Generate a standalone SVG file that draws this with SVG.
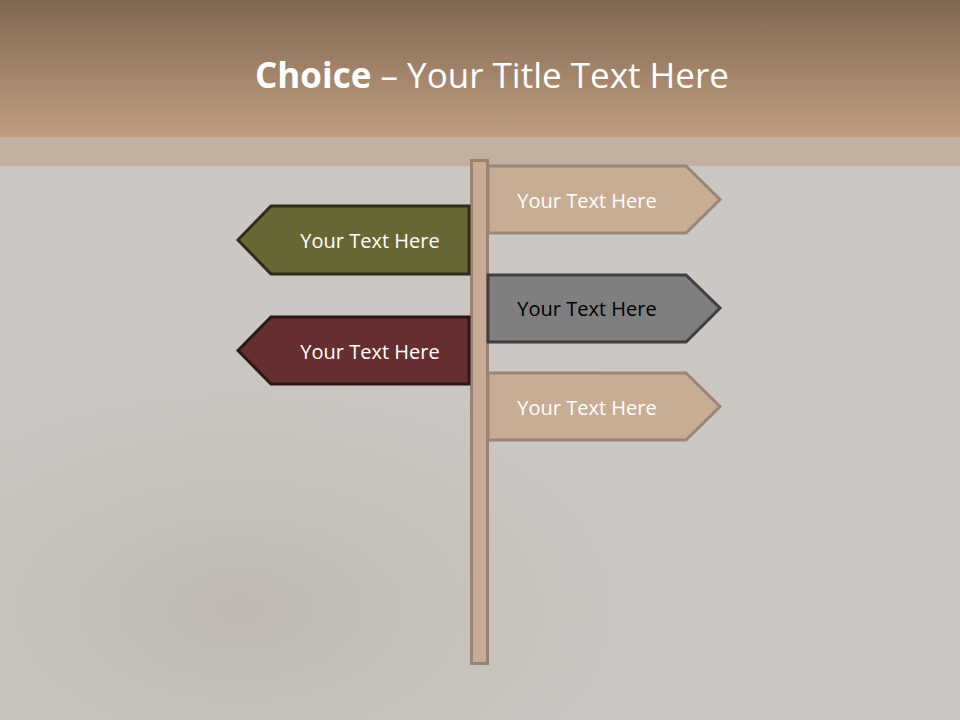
<svg xmlns="http://www.w3.org/2000/svg" width="960" height="720" viewBox="0 0 960 720">
<defs>
<linearGradient id="hdr" x1="0" y1="0" x2="0" y2="1">
<stop offset="0" stop-color="#7e6853"/>
<stop offset="1" stop-color="#c09e7f"/>
</linearGradient>
<radialGradient id="bgshade" cx="0.25" cy="0.8" r="0.6">
<stop offset="0" stop-color="#aaa197" stop-opacity="0.4"/>
<stop offset="1" stop-color="#cbc7c2" stop-opacity="0"/>
</radialGradient>
<style>
.lbl{font-family:"Open Sans","Liberation Sans",sans-serif;font-size:20px;text-anchor:middle;dominant-baseline:central}
.w{fill:#ffffff}
.k{fill:#000000}
.tan{fill:#c8ad95;stroke:#9b8575;stroke-width:3}
</style>
</defs>
<rect x="0" y="0" width="960" height="720" fill="#cbc7c2"/>
<rect x="0" y="166" width="960" height="554" fill="url(#bgshade)"/>
<rect x="0" y="0" width="960" height="137" fill="url(#hdr)"/>
<rect x="0" y="137" width="960" height="29" fill="#c0b0a2"/>
<text x="492" y="88" text-anchor="middle" font-family="'Open Sans','Liberation Sans',sans-serif" font-size="35" fill="#ffffff"><tspan font-weight="bold">Choice</tspan> – Your Title Text Here</text>
<g id="post"><rect x="471.5" y="160.5" width="16" height="503" fill="#c8ab94" stroke="#9a8373" stroke-width="3"/></g>
<g id="sign1"><polygon class="tan" points="488,166 686,166 720,199.5 686,233 488,233"/><text class="lbl w" x="587" y="200">Your Text Here</text></g>
<g id="sign2"><polygon points="469,206 271,206 238,240 271,274 469,274" fill="#676734" stroke="#2f2f18" stroke-width="3"/><text class="lbl w" x="370" y="240">Your Text Here</text></g>
<g id="sign3"><polygon points="488,275 686,275 720,308 686,342 488,342" fill="#7f7f7f" stroke="#404040" stroke-width="3"/><text class="lbl k" x="587" y="308">Your Text Here</text></g>
<g id="sign4"><polygon points="469,317 271,317 238,350.5 271,384 469,384" fill="#652f30" stroke="#2f1718" stroke-width="3"/><text class="lbl w" x="370" y="351">Your Text Here</text></g>
<g id="sign5"><polygon class="tan" points="488,373 686,373 720,406.5 686,440 488,440" /><text class="lbl w" x="587" y="407">Your Text Here</text></g>
<g id="connectors"></g>
</svg>
